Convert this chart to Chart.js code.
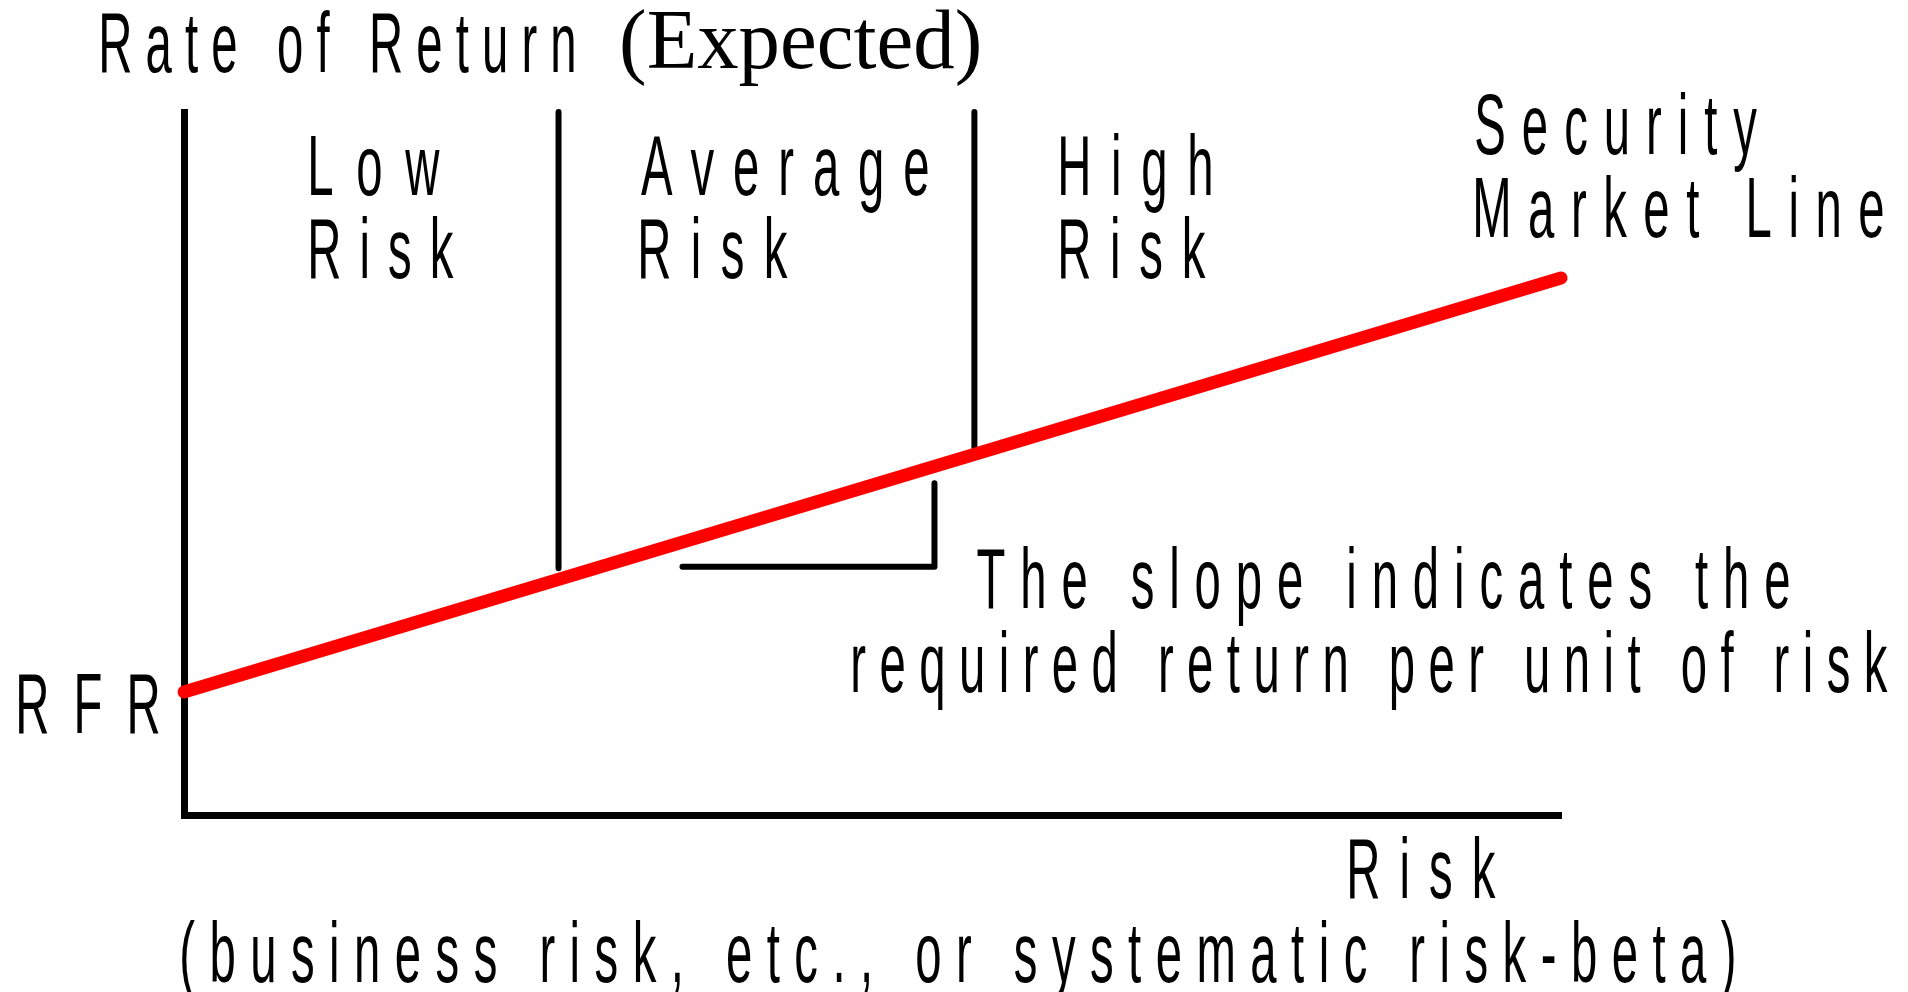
<!DOCTYPE html>
<html>
<head>
<meta charset="utf-8">
<title>Security Market Line</title>
<script src="https://cdn.jsdelivr.net/npm/chart.js@4.4.1/dist/chart.umd.min.js"></script>
<style>
  html, body { margin: 0; padding: 0; background: #fff; }
  canvas { display: block; }
</style>
</head>
<body>
<canvas id="smlChart" width="1908" height="992"></canvas>
<script>
/* -------------------------
   data (risk on x, expected return on y, both 0..10)
   ------------------------- */
const riskX = [0, 10];
const smlReturn = [1.75, 7.64];          // RFR at zero risk, up to the far end
const bandEdges = [2.72, 5.74];          // low|average, average|high boundaries
const bandEdgeBottoms = [3.51, 5.23];    // where each boundary stops, just on the SML
const bandTop = 10;
const slopeRun = [3.62, 5.45];           // little slope bracket under the line
const slopeRise = [3.53, 4.72];

const bandLabels = [['Low', 'Risk'], ['Average', 'Risk'], ['High', 'Risk']];

const SANS = '"Liberation Sans", Arial, sans-serif';
const SERIF = '"Liberation Serif", "Times New Roman", serif';

// draws condensed, letter-spaced text so its ink spans exactly [x, x + width]
function fitText(ctx, str, x, base, width, opts = {}) {
  const size = opts.size || 86;
  ctx.font = `${size}px ${opts.family || SANS}`;
  ctx.letterSpacing = '0px';
  const m = ctx.measureText(str);
  const ink = m.actualBoundingBoxLeft + m.actualBoundingBoxRight;
  let squeeze = opts.squeeze || 0.55;
  let gap = 0;
  if (opts.spread === false || str.length < 2) {
    squeeze = width / ink;
  } else {
    gap = (width / squeeze - ink) / (str.length - 1);
  }
  ctx.letterSpacing = gap + 'px';
  ctx.save();
  ctx.translate(x + m.actualBoundingBoxLeft * squeeze, base);
  ctx.scale(squeeze, 1);
  ctx.fillStyle = '#000';
  ctx.textBaseline = 'alphabetic';
  ctx.textAlign = 'left';
  ctx.fillText(str, 0, 0);
  ctx.restore();
  ctx.letterSpacing = '0px';
}

const labelsPlugin = {
  id: 'smlLabels',
  afterDraw(chart) {
    const ctx = chart.ctx;
    // axis titles
    fitText(ctx, 'Rate of Return', 102, 72, 472);
    fitText(ctx, '(Expected)', 622, 68, 357, { family: SERIF, size: 85, spread: false });
    fitText(ctx, 'RFR', 19, 733, 140);
    fitText(ctx, 'Risk', 1350, 898, 146);
    fitText(ctx, '(business risk, etc., or systematic risk-beta)', 182, 982, 1552);

    // risk bands
    const bandX = [311, 641, 1061];
    const bandW = [[129, 143], [287, 147], [150, 145]];
    bandLabels.forEach((lines, i) => {
      fitText(ctx, lines[0], bandX[i], 195, bandW[i][0]);
      fitText(ctx, lines[1], bandX[i], 278, bandW[i][1]);
    });

    // line name and slope note
    fitText(ctx, 'Security', 1476, 154, 281);
    fitText(ctx, 'Market Line', 1476, 237, 407);
    fitText(ctx, 'The slope indicates the', 977, 608, 812);
    fitText(ctx, 'required return per unit of risk', 853, 692, 1035);
  }
};

const blackLine = {
  borderColor: '#000',
  borderWidth: 6,
  borderCapStyle: 'round',
  borderJoinStyle: 'round',
  pointRadius: 0,
  tension: 0,
  fill: false,
  clip: false
};

const datasets = [
  {
    label: 'Security Market Line',
    data: riskX.map((x, i) => ({ x, y: smlReturn[i] })),
    borderColor: '#ff0000',
    borderWidth: 13,
    borderCapStyle: 'round',
    pointRadius: 0,
    tension: 0,
    fill: false,
    clip: false,
    order: 0
  },
  ...bandEdges.map((x, i) => ({
    ...blackLine,
    label: 'band ' + (i + 1),
    data: [{ x, y: bandTop }, { x, y: bandEdgeBottoms[i] }],
    order: 1
  })),
  {
    ...blackLine,
    label: 'slope',
    data: [
      { x: slopeRun[0], y: slopeRise[0] },
      { x: slopeRun[1], y: slopeRise[0] },
      { x: slopeRun[1], y: slopeRise[1] }
    ],
    order: 1
  }
];

new Chart(document.getElementById('smlChart'), {
  type: 'line',
  data: { datasets },
  options: {
    responsive: false,
    animation: false,
    devicePixelRatio: 1,
    layout: { padding: { left: 184, right: 347, top: 112, bottom: 177 } },
    plugins: {
      legend: { display: false },
      tooltip: { enabled: false },
      title: { display: false }
    },
    scales: {
      x: {
        type: 'linear',
        min: 0,
        max: 10,
        ticks: { display: false },
        grid: { display: false, drawTicks: false },
        border: { display: true, color: '#000', width: 7 }
      },
      y: {
        type: 'linear',
        min: 0,
        max: 10,
        ticks: { display: false },
        grid: { display: false, drawTicks: false },
        border: { display: true, color: '#000', width: 7 }
      }
    }
  },
  plugins: [labelsPlugin]
});
</script>
</body>
</html>
